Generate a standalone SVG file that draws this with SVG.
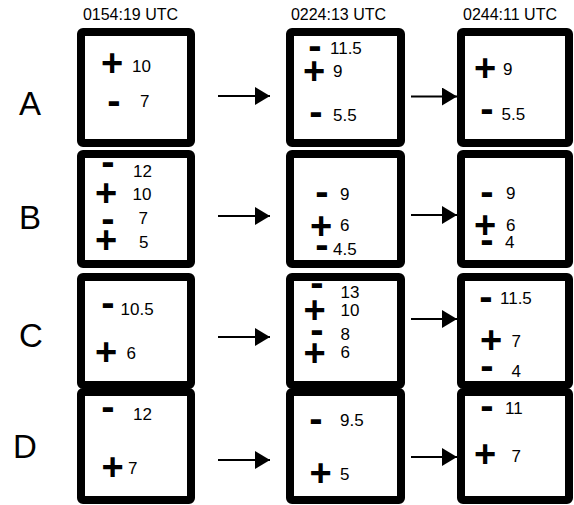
<svg xmlns="http://www.w3.org/2000/svg" width="574" height="505" viewBox="0 0 574 505">
<style>
.box{fill:#fff;stroke:#000;stroke-width:8}
.hdr{font-family:"Liberation Sans",Arial,sans-serif;font-size:16px;text-anchor:middle}
.row{font-family:"Liberation Sans",Arial,sans-serif;font-size:33px;text-anchor:middle}
.n{font-family:"Liberation Sans",Arial,sans-serif;font-size:17px}
.p{font-family:"Liberation Sans",Arial,sans-serif;font-size:38px;font-weight:bold;text-anchor:middle}
.m{font-family:"Liberation Sans",Arial,sans-serif;font-size:40px;font-weight:bold;text-anchor:middle}
.arr{stroke:#000;stroke-width:2;fill:none;marker-end:url(#ah)}
</style>
<defs>
<marker id="ah" markerUnits="userSpaceOnUse" markerWidth="16" markerHeight="18" refX="15" refY="9" orient="auto">
<path d="M0,0 L15,9 L0,18 z" fill="#000"/>
</marker>
</defs>
<g id="headers">
<text class="hdr" x="130.5" y="20">0154:19 UTC</text>
<text class="hdr" x="338.5" y="20">0224:13 UTC</text>
<text class="hdr" x="510" y="20">0244:11 UTC</text>
</g>
<g id="rowlabels">
<text class="row" x="30" y="115">A</text>
<text class="row" x="30" y="229">B</text>
<text class="row" x="31" y="347">C</text>
<text class="row" x="25" y="458">D</text>
</g>
<g id="A1"><rect class="box" x="81" y="32" width="110" height="111" rx="2"/>
<text class="p" x="112" y="76">+</text><text class="n" x="132" y="72">10</text>
<text class="m" x="114" y="114">-</text><text class="n" x="140" y="107">7</text></g>
<g id="A2"><rect class="box" x="290" y="32" width="111" height="111" rx="2"/>
<text class="m" x="315" y="59">-</text><text class="n" x="330" y="53.5">11.5</text>
<text class="p" x="314" y="83.5">+</text><text class="n" x="333" y="77">9</text>
<text class="m" x="316" y="125">-</text><text class="n" x="333" y="120.5">5.5</text></g>
<g id="A3"><rect class="box" x="461" y="32" width="108" height="111" rx="2"/>
<text class="p" x="485" y="81">+</text><text class="n" x="503" y="75">9</text>
<text class="m" x="487" y="121.5">-</text><text class="n" x="501.5" y="120">5.5</text></g>
<g id="B1"><rect class="box" x="81" y="154" width="110" height="110" rx="2"/>
<text class="m" x="108" y="175">-</text><text class="n" x="133" y="176.5">12</text>
<text class="p" x="106" y="205.5">+</text><text class="n" x="132.5" y="200">10</text>
<text class="m" x="108" y="231.5">-</text><text class="n" x="138.5" y="224">7</text>
<text class="p" x="106" y="252.5">+</text><text class="n" x="139" y="248">5</text></g>
<g id="B2"><rect class="box" x="290" y="154" width="111" height="110" rx="2"/>
<text class="m" x="322" y="205">-</text><text class="n" x="340" y="200">9</text>
<text class="p" x="321" y="239">+</text><text class="n" x="340" y="231">6</text>
<text class="m" x="322" y="257.5">-</text><text class="n" x="333" y="255">4.5</text></g>
<g id="B3"><rect class="box" x="461" y="154" width="108" height="110" rx="2"/>
<text class="m" x="487" y="205">-</text><text class="n" x="506" y="199">9</text>
<text class="p" x="485" y="237.5">+</text><text class="n" x="506" y="231">6</text>
<text class="m" x="487" y="253">-</text><text class="n" x="505" y="248">4</text></g>
<g id="C1"><rect class="box" x="81" y="277" width="110" height="108" rx="2"/>
<text class="m" x="108" y="316">-</text><text class="n" x="120.5" y="315">10.5</text>
<text class="p" x="106" y="365">+</text><text class="n" x="126.5" y="359">6</text></g>
<g id="C2"><rect class="box" x="290" y="277" width="111" height="108" rx="2"/>
<text class="m" x="317" y="296">-</text><text class="n" x="340.5" y="297.5">13</text>
<text class="p" x="314.5" y="322.5">+</text><text class="n" x="340.5" y="315.5">10</text>
<text class="m" x="317" y="343">-</text><text class="n" x="340.5" y="340">8</text>
<text class="p" x="314.5" y="365.5">+</text><text class="n" x="340.5" y="358">6</text></g>
<g id="C3"><rect class="box" x="461" y="277" width="108" height="108" rx="2"/>
<text class="m" x="486" y="310">-</text><text class="n" x="500" y="303.5">11.5</text>
<text class="p" x="491" y="352.5">+</text><text class="n" x="511.5" y="346.5">7</text>
<text class="m" x="487" y="379">-</text><text class="n" x="511.5" y="377">4</text></g>
<g id="D1"><rect class="box" x="81" y="392" width="110" height="108" rx="2"/>
<text class="m" x="108" y="420">-</text><text class="n" x="133" y="420">12</text>
<text class="p" x="112.5" y="480">+</text><text class="n" x="128" y="474">7</text></g>
<g id="D2"><rect class="box" x="290" y="392" width="111" height="108" rx="2"/>
<text class="m" x="316" y="431.5">-</text><text class="n" x="340" y="426">9.5</text>
<text class="p" x="320.5" y="486">+</text><text class="n" x="340" y="480">5</text></g>
<g id="D3"><rect class="box" x="461" y="392" width="108" height="108" rx="2"/>
<text class="m" x="487" y="418.5">-</text><text class="n" x="505" y="414">11</text>
<text class="p" x="485" y="466.5">+</text><text class="n" x="511.5" y="461.5">7</text></g>
<g id="connectors">
<line class="arr" x1="218" y1="96" x2="270" y2="96"/>
<line class="arr" x1="411" y1="96.5" x2="457" y2="96.5"/>
<line class="arr" x1="218" y1="216" x2="270" y2="216"/>
<line class="arr" x1="411" y1="215" x2="457" y2="215"/>
<line class="arr" x1="218" y1="337" x2="270" y2="337"/>
<line class="arr" x1="411" y1="319" x2="457" y2="319"/>
<line class="arr" x1="218" y1="460" x2="270" y2="460"/>
<line class="arr" x1="411" y1="457" x2="457" y2="457"/>
</g>
</svg>
